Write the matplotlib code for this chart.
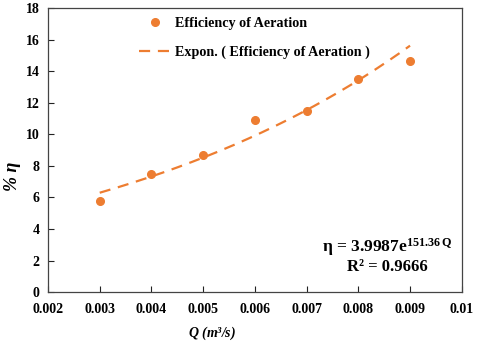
import numpy as np
import matplotlib
matplotlib.use("Agg")
import matplotlib.pyplot as plt

plt.rcParams['font.family'] = ['Liberation Serif', 'DejaVu Serif']
plt.rcParams['font.weight'] = 'bold'
plt.rcParams['mathtext.fontset'] = 'custom'
plt.rcParams['mathtext.rm'] = 'Liberation Serif:bold'
plt.rcParams['mathtext.it'] = 'Liberation Serif:bold:italic'
plt.rcParams['mathtext.bf'] = 'Liberation Serif:bold'

Q = [0.003, 0.004, 0.005, 0.006, 0.007, 0.008, 0.009]
eta = [5.77, 7.48, 8.66, 10.92, 11.47, 13.48, 14.64]
fit_a = 3.9987
fit_b = 151.36
xticks = [0.002, 0.003, 0.004, 0.005, 0.006, 0.007, 0.008, 0.009, 0.01]
xticklabels = ['0.002', '0.003', '0.004', '0.005', '0.006', '0.007', '0.008', '0.009', '0.01']
yticks = [0, 2, 4, 6, 8, 10, 12, 14, 16, 18]

orange = '#ED7D31'

fig = plt.figure(figsize=(4.8, 3.49), dpi=100)
ax = fig.add_axes([0.1, 0.163, 0.862, 0.814])

ax.plot(Q, eta, 'o', color=orange, markersize=5.5, label='Efficiency of Aeration', zorder=3)
qf = np.linspace(min(Q), max(Q), 200)
ax.plot(qf, fit_a * np.exp(fit_b * qf), '--', color=orange, lw=1.6, dashes=(5, 3.5),
        label='Expon. ( Efficiency of Aeration )', zorder=2)

ax.set_xlim(0.002, 0.01)
ax.set_ylim(0, 18)
ax.set_xticks(xticks)
ax.set_xticklabels(xticklabels)
ax.set_yticks(yticks)
ax.tick_params(direction='in', length=4, width=0.8, labelsize=10, colors='#222222')
ax.tick_params(axis='x', pad=8)
ax.tick_params(axis='y', pad=6)
for lab in ax.get_xticklabels() + ax.get_yticklabels():
    lab.set_fontweight('bold')
    lab.set_color('black')
for s in ax.spines.values():
    s.set_color('#444444')
    s.set_linewidth(0.9)

ax.set_xlabel(r'$Q$ (m³/s)', fontsize=10, fontstyle='italic', fontweight='bold')
ax.xaxis.set_label_coords((212 - 48) / 413.8, -(325 - 292) / 284.1)
ax.set_ylabel('% η', fontsize=13, fontstyle='italic', fontweight='bold')
ax.yaxis.set_label_coords(-(48 - 21) / 413.8, (292 - 176) / 284.1)

leg = ax.legend(loc='upper left', bbox_to_anchor=(0.19, 1.012), frameon=False,
                handlelength=2.2, handletextpad=0.35, labelspacing=1.05,
                prop={'family': 'Liberation Serif', 'weight': 'bold', 'size': 10.2})

ax.text(0.82, 0.16, r'η = 3.9987e$^{\mathrm{151.36\,Q}}$', transform=ax.transAxes,
        fontsize=12.5, fontweight='bold', ha='center', va='center')
ax.text(0.82, 0.09, 'R² = 0.9666', transform=ax.transAxes,
        fontsize=12, fontweight='bold', ha='center', va='center')

fig.savefig('out.png', dpi=100)
